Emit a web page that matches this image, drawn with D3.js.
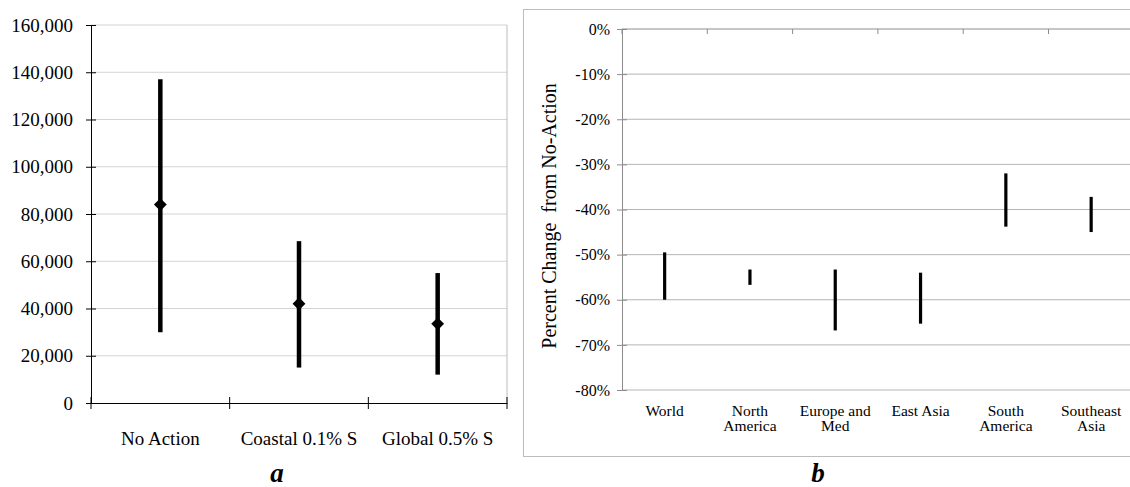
<!DOCTYPE html>
<html>
<head>
<meta charset="utf-8">
<script src="https://cdn.jsdelivr.net/npm/d3@7"></script>
<style>
    body { margin: 0; background: #fff; }
    svg { display: block; }
    svg text { font-family: "Liberation Serif", "Times New Roman", serif; }
</style>
</head>
<body>
<div id="chart"></div>
<script>
// Panel a: damage ranges by scenario
const scenarios = ['No Action', 'Coastal 0.1% S', 'Global 0.5% S'];
const scenarioLow = [30000, 15000, 12000];
const scenarioHigh = [137000, 68500, 55000];
const scenarioMid = [84000, 42000, 33500];
const leftTicks = [0, 20000, 40000, 60000, 80000, 100000, 120000, 140000, 160000];

// Panel b: percent change from no-action by region
const regions = [['World'], ['North', 'America'], ['Europe and', 'Med'], ['East Asia'], ['South', 'America'], ['Southeast', 'Asia']];
const regionLow = [-60, -56.7, -66.8, -65.3, -43.8, -45];
const regionHigh = [-49.5, -53.3, -53.3, -54, -32, -37.2];
const rightTicks = [0, -10, -20, -30, -40, -50, -60, -70, -80];

const width = 1130, height = 487;
const serif = '"Liberation Serif", "Times New Roman", serif';

const svg = d3.select('#chart').append('svg')
    .attr('width', width)
    .attr('height', height);

function drawPanelA() {
    const x = d3.scaleBand()
        .domain(scenarios)
        .range([91, 507])
        .padding(0);

    const y = d3.scaleLinear()
        .domain([0, 160000])
        .range([403, 25]);

    const g = svg.append('g');

    // gridlines
    g.append('g')
        .selectAll('line')
        .data(leftTicks.filter(d => d > 0))
        .join('line')
        .attr('x1', 91)
        .attr('x2', 507)
        .attr('y1', d => y(d))
        .attr('y2', d => y(d))
        .attr('stroke', '#d4d4d4')
        .attr('stroke-width', 1);

    // right border of plot area
    g.append('line')
        .attr('x1', 507).attr('x2', 507)
        .attr('y1', y(160000)).attr('y2', y(0))
        .attr('stroke', '#bdbdbd');

    // y axis
    const yAxis = g.append('g')
        .attr('transform', 'translate(91,0)')
        .call(d3.axisLeft(y).tickValues(leftTicks).tickSize(0).tickPadding(18)
            .tickFormat(d3.format(',')));
    yAxis.attr('font-family', null).attr('font-size', null);
    yAxis.select('.domain').attr('stroke', '#000');
    yAxis.selectAll('text').style('font-size', '19px').attr('fill', '#000')
        .style('font-family', serif);
    yAxis.selectAll('.tick').append('line')
        .attr('x1', -5).attr('x2', 5).attr('stroke', '#000');

    // x axis
    const xAxis = g.append('g')
        .attr('transform', `translate(0,${y(0)})`)
        .call(d3.axisBottom(x).tickSize(0).tickPadding(29));
    xAxis.attr('font-family', null).attr('font-size', null);
    xAxis.select('.domain').attr('stroke', '#000');
    xAxis.selectAll('text').style('font-size', '19px').attr('fill', '#000')
        .style('font-family', serif);
    xAxis.append('g')
        .selectAll('line')
        .data(scenarios.map(s => x(s)).concat([x.range()[1]]))
        .join('line')
        .attr('x1', d => d).attr('x2', d => d)
        .attr('y1', -6).attr('y2', 6)
        .attr('stroke', '#000');

    // range bars
    g.append('g')
        .selectAll('line')
        .data(scenarios)
        .join('line')
        .attr('x1', d => x(d) + x.bandwidth() / 2)
        .attr('x2', d => x(d) + x.bandwidth() / 2)
        .attr('y1', (d, i) => y(scenarioHigh[i]))
        .attr('y2', (d, i) => y(scenarioLow[i]))
        .attr('stroke', '#000')
        .attr('stroke-width', 4.5);

    // diamond markers
    g.append('g')
        .selectAll('path')
        .data(scenarios)
        .join('path')
        .attr('d', d3.symbol(d3.symbolSquare, 82))
        .attr('transform', (d, i) => `translate(${x(d) + x.bandwidth() / 2},${y(scenarioMid[i])}) rotate(45)`)
        .attr('fill', '#000');

    svg.append('text')
        .attr('x', 277)
        .attr('y', 482)
        .attr('text-anchor', 'middle')
        .style('font-size', '27px')
        .attr('font-weight', 'bold')
        .attr('font-style', 'italic')
        .text('a');
}

function drawPanelB() {
    const names = regions.map(r => r.join(' '));

    const x = d3.scaleBand()
        .domain(names)
        .range([622, 622 + 6 * 85.3])
        .padding(0);

    const y = d3.scaleLinear()
        .domain([-80, 0])
        .range([390, 29]);

    // outer box
    svg.append('rect')
        .attr('x', 523.5)
        .attr('y', 9.5)
        .attr('width', 640)
        .attr('height', 447)
        .attr('fill', 'none')
        .attr('stroke', '#bdbdbd');

    const g = svg.append('g');

    g.append('g')
        .selectAll('line')
        .data(rightTicks.filter(d => d < 0))
        .join('line')
        .attr('x1', 622)
        .attr('x2', x.range()[1])
        .attr('y1', d => y(d))
        .attr('y2', d => y(d))
        .attr('stroke', '#b5b5b5');

    const yAxis = g.append('g')
        .attr('transform', 'translate(622,0)')
        .call(d3.axisLeft(y).tickValues(rightTicks).tickSize(0).tickPadding(12)
            .tickFormat(d => d + '%'));
    yAxis.attr('font-family', null).attr('font-size', null);
    yAxis.select('.domain').attr('stroke', '#8c8c8c');
    yAxis.selectAll('text').style('font-size', '16px').attr('fill', '#000')
        .style('font-family', serif);
    yAxis.selectAll('.tick').append('line')
        .attr('x1', -5).attr('x2', 5).attr('stroke', '#8c8c8c');

    // horizontal axis sits at 0%
    const xAxis = g.append('g')
        .attr('transform', `translate(0,${y(0)})`);
    xAxis.append('line')
        .attr('x1', 622).attr('x2', x.range()[1])
        .attr('stroke', '#8c8c8c');
    xAxis.append('g')
        .selectAll('line')
        .data(names.map(n => x(n)))
        .join('line')
        .attr('x1', d => d).attr('x2', d => d)
        .attr('y1', 0).attr('y2', 5)
        .attr('stroke', '#8c8c8c');

    // category labels at the bottom
    const labels = g.append('g')
        .selectAll('text')
        .data(regions)
        .join('text')
        .attr('x', (d, i) => x(names[i]) + x.bandwidth() / 2)
        .attr('y', 416)
        .attr('text-anchor', 'middle')
        .style('font-size', '15.5px');
    labels.selectAll('tspan')
        .data((d, i) => d.map(line => ({ line, cx: x(names[i]) + x.bandwidth() / 2 })))
        .join('tspan')
        .attr('x', d => d.cx)
        .attr('dy', (d, i) => i === 0 ? 0 : 15)
        .text(d => d.line);

    g.append('g')
        .selectAll('line.bar')
        .data(names)
        .join('line')
        .attr('class', 'bar')
        .attr('x1', d => x(d) + x.bandwidth() / 2)
        .attr('x2', d => x(d) + x.bandwidth() / 2)
        .attr('y1', (d, i) => y(regionHigh[i]))
        .attr('y2', (d, i) => y(regionLow[i]))
        .attr('stroke', '#000')
        .attr('stroke-width', 3.2);

    svg.append('text')
        .attr('transform', 'translate(556,216) rotate(-90)')
        .attr('text-anchor', 'middle')
        .style('font-size', '20px')
        .style('white-space', 'pre')
        .text('Percent Change  from No-Action');

    svg.append('text')
        .attr('x', 818)
        .attr('y', 482)
        .attr('text-anchor', 'middle')
        .style('font-size', '27px')
        .attr('font-weight', 'bold')
        .attr('font-style', 'italic')
        .text('b');
}

drawPanelA();
drawPanelB();
</script>
</body>
</html>
